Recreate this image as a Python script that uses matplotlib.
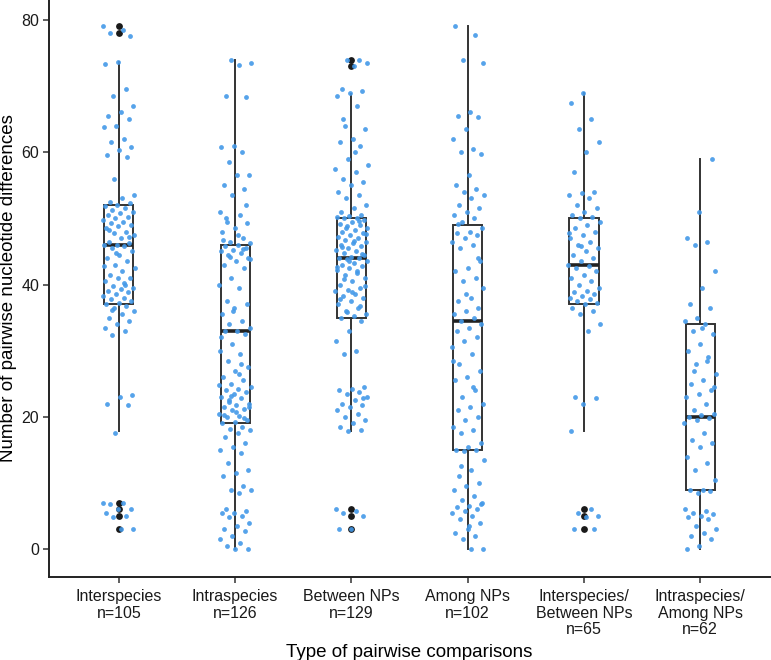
import numpy as np
import matplotlib
matplotlib.use("Agg")
import matplotlib.pyplot as plt

plt.rcParams['font.family'] = ['Liberation Sans', 'DejaVu Sans']

groups = ["Interspecies\nn=105", "Intraspecies\nn=126", "Between NPs\nn=129",
          "Among NPs\nn=102", "Interspecies/\nBetween NPs\nn=65", "Intraspecies/\nAmong NPs\nn=62"]

# box statistics: whisker low, Q1, median, Q3, whisker high
whislo = [17.8, 0, 17.8, 0, 17.8, 0]
q1 = [37, 19, 35, 15, 37, 9]
med = [46, 33, 44, 34.5, 43, 20]
q3 = [52, 46, 50, 49, 50, 34]
whishi = [73.7, 74, 68.8, 79, 69, 59]
outliers = [[79, 78, 7, 6, 5, 3], [], [74, 73, 6, 5, 3], [], [6, 5, 3], []]

interspecies = [79, 78.5, 78, 77.5, 73.7, 73.3, 69.5, 68.5, 67, 66, 65.5, 65, 64, 63.8,
                62, 61.5, 60.8, 60.3, 59.5, 59.2, 56, 53.5, 53, 52.5, 52.3, 52, 51.8, 51.5,
                51.3, 51, 50.8, 50.5, 50.2, 50, 49.8, 49.5, 49.3, 49, 48.8, 48.5, 48, 47.8,
                47.5, 47, 46.5, 46.2, 46, 46, 45.8, 45.5, 45, 44.5, 44, 43.5, 43, 42.5, 42,
                41.5, 41, 41, 40.5, 40, 39.8, 39.5, 39.3, 39, 38.8, 38.5, 38.2, 38, 37.8,
                37.5, 37.2, 37, 36.8, 36.5, 36, 35.5, 35, 34.5, 34, 33.5, 33, 32.3, 23.3, 23,
                22, 21.8, 17.5, 7, 7, 6.8, 6, 6, 5.5, 5, 4.8, 3, 3, 48.2, 47.2, 44.8, 42.8,
                40.2, 36.2]
intraspecies = [74, 73.5, 73.2, 68.5, 68.3, 61, 60.8, 60, 58.5, 56.5, 56.5, 55, 54.5, 53.5,
                51, 50.5, 49.5, 49.3, 48.5, 48, 47, 46.5, 46.2, 46, 45.8, 45.5, 45.2, 45, 44.8,
                44.5, 44, 43.5, 43, 42.5, 41, 40, 39.5, 37.5, 37, 36.5, 35.5, 34.5, 34, 33.5,
                33, 33, 32.5, 31, 30, 29.5, 28.5, 27.5, 27, 26, 25.5, 25, 24.5, 24.2, 24, 23.8,
                23.5, 23, 22.8, 22.5, 22, 21.8, 21.5, 21.2, 21, 20.5, 20.2, 20, 19.5, 19.2, 19,
                18.5, 18.2, 18, 17.5, 17, 16, 15.5, 15, 14.5, 13, 12, 11.5, 11, 9.5, 9, 9, 8.5,
                6, 5.8, 5.5, 5.5, 5, 4.8, 4, 3.5, 3, 2.8, 2, 1.5, 1, 0.5, 0, 0, 46.8, 45.3,
                44.2, 43.8, 47.5, 50, 52, 36, 32, 28, 22.2, 21.5, 20.8, 20.3, 19.8, 23.2, 24.8,
                26.5]
between_nps = [74, 74, 73.5, 73, 69.5, 69.2, 69, 68.5, 67, 64, 63.5, 62, 61.5, 61, 59, 57.5,
               57, 56, 55.5, 55, 54, 53.5, 53, 52, 51.5, 51, 50.5, 50.3, 50.2, 50, 50, 49.8,
               49.5, 49.2, 49, 48.8, 48.5, 48.2, 48, 47.8, 47.5, 47.2, 47, 46.8, 46.5, 46.2,
               46, 45.8, 45.5, 45.2, 45, 44.8, 44.5, 44.2, 44, 44, 43.8, 43.5, 43.2, 43, 42.8,
               42.5, 42.2, 42, 41.5, 41, 40.5, 40, 39.5, 39.2, 39, 38.5, 38.2, 38, 37.5, 37,
               36.5, 36, 35.5, 35.2, 35, 34.5, 33, 31.5, 30, 29.5, 24.5, 24.2, 24, 23.8, 23.5,
               23, 22.5, 22, 21.8, 21.5, 21, 20.5, 20, 19.5, 19, 18.5, 18, 17.8, 6, 5.8, 5.5,
               5, 3, 3, 49.6, 48.6, 47.6, 46.6, 45.6, 44.6, 43.6, 42.6, 41.8, 40.8, 39.8,
               38.8, 37.8, 36.8, 35.8, 58, 60, 65, 22.8]
among_nps = [79, 77.7, 74, 73.5, 66, 65.5, 65.3, 63.5, 62, 60.5, 60, 59.8, 56.5, 55, 54.5,
             54, 53.5, 53, 52, 51.5, 51, 50.5, 50, 49.5, 48.5, 48, 47.8, 47.5, 47, 46.5, 46,
             45.5, 43.5, 42.5, 42, 41, 40.5, 39.5, 38, 37.5, 36.5, 36, 35.5, 35, 34.5, 34,
             33.5, 33, 32, 31.5, 30.5, 29.5, 28, 27, 26, 25.5, 24, 23, 22, 21.5, 21, 20,
             19.5, 18.5, 18, 17.5, 16, 15.5, 15, 15, 14.8, 13.5, 12, 11, 10, 9.5, 9, 8, 7.5,
             7, 6.5, 6.3, 6, 5.8, 5.5, 5, 4.5, 4, 3, 2.5, 2, 1.5, 0, 0, 49.2, 44, 38.5, 28.5,
             24.5, 12.5, 6.8, 3.5]
inter_between = [69, 67.5, 65, 63.5, 61.5, 60, 57, 54, 53.8, 53.5, 53, 52, 51.5, 51, 50.5,
                 50.2, 50, 49.5, 49, 48.5, 48, 47.5, 47, 46.5, 46, 45.5, 45, 44.5, 44, 43.5,
                 43, 42.8, 42.5, 42, 41.5, 41, 40.5, 40, 39.5, 39, 38.8, 38.5, 38.2, 38, 37.8,
                 37.5, 37.2, 37, 36.5, 36, 35.5, 34, 33, 23, 22.8, 22, 17.8, 6, 5.5, 5, 4.8,
                 3, 3, 45.8, 47.8]
intra_among = [59, 51, 47, 46.5, 46, 42, 39.5, 37, 36.5, 35, 34.5, 34, 33, 32.5, 31, 30, 29,
               28, 26.5, 25.5, 25, 24, 23.5, 23, 22, 21, 20.5, 20.3, 20, 19.8, 19.5, 19, 17.5,
               16.5, 16, 15.5, 14, 13, 12, 10.5, 9, 9, 8.8, 8.5, 6, 5.8, 5.5, 5.3, 5, 4.8,
               4.5, 3.5, 3, 2.5, 2, 1.5, 0.5, 0, 28.5, 27, 24.5, 33.5]

values = [interspecies, intraspecies, between_nps, among_nps, inter_between, intra_among]

fig = plt.figure(figsize=(7.71, 6.6), dpi=100)
ax = fig.add_axes([0.0636, 0.1258, 0.9352, 0.8742])

positions = np.arange(1, len(groups) + 1)
stats = []
for i in range(len(groups)):
    stats.append(dict(whislo=whislo[i], q1=q1[i], med=med[i], q3=q3[i],
                      whishi=whishi[i], fliers=[]))

box_col = "#333333"
ax.bxp(stats, positions=positions, widths=0.25, showcaps=False, patch_artist=True,
       boxprops=dict(facecolor="white", edgecolor=box_col, linewidth=1.4),
       whiskerprops=dict(color=box_col, linewidth=1.4),
       medianprops=dict(color="#222222", linewidth=2.6),
       zorder=1)

for i, pos in enumerate(positions):
    if outliers[i]:
        ax.scatter(np.full(len(outliers[i]), pos), outliers[i], s=24, color="#1a1a1a",
                   zorder=2, linewidths=0)

# jitter offsets (deterministic)
for i, pos in enumerate(positions):
    v = np.array(values[i])
    k = np.arange(len(v))
    off = ((k * 0.6180339887 + 0.37 * i) % 1.0 - 0.5) * 0.28
    ax.scatter(pos + off, v, s=12, color="#4499e8", alpha=0.9, linewidths=0, zorder=3)

ax.set_xlim(0.4, 6.6)
ax.set_ylim(-4.2, 83)
ax.set_xticks(positions)
ax.set_xticklabels(groups, fontsize=11.5, color="#1a1a1a", linespacing=1.1)
ax.set_yticks([0, 20, 40, 60, 80])
ax.tick_params(axis="y", labelsize=11.5, labelcolor="#1a1a1a", pad=3)
ax.tick_params(axis="x", pad=5)
ax.tick_params(direction="out", length=4, width=1.1, color="#333333")

for s in ["top", "right"]:
    ax.spines[s].set_visible(False)
for s in ["left", "bottom"]:
    ax.spines[s].set_linewidth(1.4)
    ax.spines[s].set_color("#222222")

ax.set_xlabel("Type of pairwise comparisons", fontsize=13.5, labelpad=5)
ax.set_ylabel("Number of pairwise nucleotide differences", fontsize=13.5, labelpad=3)

fig.savefig("out.png", dpi=100)
